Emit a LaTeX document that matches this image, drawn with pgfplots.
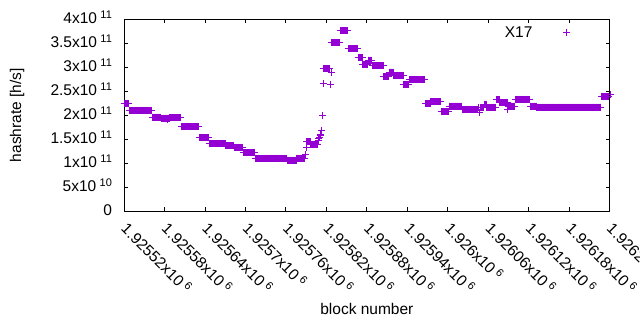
\documentclass[border=0pt]{standalone}
\usepackage{pgfplots}
\pgfplotsset{compat=1.18}
\usepackage{fontspec}
\setmainfont{Liberation Sans}
\newcommand\sexp[1]{\hspace{0.22em}\smash{\raisebox{5bp}{\fontsize{11bp}{11bp}\selectfont #1}}}
\newcommand\gpfont{\fontsize{15.5bp}{18bp}\selectfont}
\definecolor{gpviolet}{RGB}{148,0,211}
\pgfplotsset{gpmark/.style={legend image code/.code={\draw[##1] plot coordinates {(0bp,0bp)};}}}
\begin{document}
\gpfont
\begin{tikzpicture}
\path[use as bounding box] (-124.1bp,-119bp) rectangle (515.9bp,211bp);
\begin{axis}[
  at={(0,0)}, anchor=south west,
  scale only axis, width=485.5bp, height=191.7bp,
  xmin=0, xmax=720, ymin=0, ymax=4e11,
  clip=false,
  axis line style={line width=1bp},
  every tick/.style={black, line width=1bp},
  major tick length=4bp,
  tick align=inside,
  xtick={0,60,...,720},
  xticklabels={1.92552x10\sexp{6},1.92558x10\sexp{6},1.92564x10\sexp{6},1.9257x10\sexp{6},1.92576x10\sexp{6},1.92582x10\sexp{6},1.92588x10\sexp{6},1.92594x10\sexp{6},1.926x10\sexp{6},1.92606x10\sexp{6},1.92612x10\sexp{6},1.92618x10\sexp{6},1.92624x10\sexp{6}},
  ytick={0,5e10,1e11,1.5e11,2e11,2.5e11,3e11,3.5e11,4e11},
  yticklabels={0,5x10\sexp{10},1x10\sexp{11},1.5x10\sexp{11},2x10\sexp{11},2.5x10\sexp{11},3x10\sexp{11},3.5x10\sexp{11},4x10\sexp{11}},
  scaled y ticks=false, scaled x ticks=false,
  tick label style={font=\gpfont},
  label style={font=\gpfont},
  xticklabel style={rotate=-45, anchor=north west, inner sep=0pt, xshift=10.6bp, yshift=-5bp},
  yticklabel style={anchor=east, inner sep=0pt, xshift=-12bp, yshift=1bp},
  xlabel={block number}, ylabel={hashrate [h/s]},
  xlabel style={at={(axis description cs:0.5,-0.5086)}, anchor=center},
  ylabel style={at={(axis description cs:-0.2204,0.5)}, anchor=center},
  legend plot pos=right,
  legend style={draw=none, fill=none, font=\gpfont, at={(axis description cs:1,1)}, anchor=north east, xshift=-39bp, yshift=-7bp, inner sep=0pt, nodes={inner sep=0pt}},
]
\addplot[only marks, mark=+, mark size=3.5bp, color=gpviolet, line width=1bp, gpmark] coordinates {
(0,2.24e11)(1,2.24e11)(2,2.24e11)(3,2.24e11)(4,2.24e11)(5,2.24e11)(6,2.24e11)(7,2.24e11)
(8,2.1e11)(9,2.1e11)(10,2.1e11)(11,2.1e11)(12,2.1e11)(13,2.1e11)(14,2.1e11)(15,2.1e11)(16,2.1e11)(17,2.1e11)
(18,2.1e11)(19,2.1e11)(20,2.1e11)(21,2.1e11)(22,2.1e11)(23,2.1e11)(24,2.1e11)(25,2.1e11)(26,2.1e11)(27,2.1e11)
(28,2.1e11)(29,2.1e11)(30,2.1e11)(31,2.1e11)(32,2.1e11)(33,2.1e11)(34,2.1e11)(35,2.1e11)(36,2.1e11)(37,2.1e11)
(38,2.1e11)(39,2.1e11)(40,2.1e11)(41,2.1e11)
(42,1.96e11)(43,1.96e11)(44,1.96e11)(45,1.96e11)(46,1.96e11)(47,1.96e11)(48,1.96e11)(49,1.96e11)(50,1.96e11)(51,1.96e11)(52,1.96e11)(53,1.96e11)(54,1.96e11)
(55,1.94e11)(56,1.94e11)(57,1.94e11)(58,1.94e11)(59,1.94e11)(60,1.94e11)(61,1.94e11)(62,1.94e11)(63,1.94e11)(64,1.94e11)(65,1.91e11)(66,1.94e11)(67,1.94e11)
(68,1.95e11)(69,1.95e11)(70,1.95e11)(71,1.95e11)(72,1.95e11)(73,1.95e11)(74,1.95e11)(75,1.95e11)(76,1.95e11)(77,1.95e11)(78,1.95e11)(79,1.95e11)(80,1.95e11)(81,1.95e11)(82,1.95e11)(83,1.95e11)(84,1.95e11)
(85,1.76e11)(86,1.76e11)(87,1.76e11)(88,1.76e11)(89,1.76e11)(90,1.76e11)(91,1.76e11)(92,1.76e11)(93,1.76e11)(94,1.76e11)
(95,1.76e11)(96,1.76e11)(97,1.76e11)(98,1.76e11)(99,1.76e11)(100,1.76e11)(101,1.76e11)(102,1.76e11)(103,1.76e11)(104,1.76e11)
(105,1.76e11)(106,1.76e11)(107,1.76e11)(108,1.76e11)(109,1.76e11)(110,1.76e11)(111,1.76e11)
(112,1.53e11)(113,1.53e11)(114,1.53e11)(115,1.53e11)(116,1.53e11)(117,1.53e11)(118,1.53e11)(119,1.53e11)(120,1.53e11)(121,1.53e11)(122,1.53e11)(123,1.53e11)(124,1.53e11)(125,1.53e11)
(126,1.41e11)(127,1.41e11)(128,1.41e11)(129,1.41e11)(130,1.41e11)(131,1.41e11)(132,1.41e11)(133,1.41e11)(134,1.41e11)(135,1.41e11)
(136,1.41e11)(137,1.41e11)(138,1.41e11)(139,1.41e11)(140,1.41e11)(141,1.41e11)(142,1.41e11)(143,1.41e11)(144,1.41e11)(145,1.41e11)
(146,1.41e11)(147,1.41e11)(148,1.41e11)(149,1.41e11)(150,1.41e11)
(151,1.36e11)(152,1.36e11)(153,1.36e11)(154,1.36e11)(155,1.36e11)(156,1.36e11)(157,1.36e11)(158,1.36e11)(159,1.36e11)(160,1.36e11)(161,1.36e11)(162,1.36e11)
(163,1.33e11)(164,1.33e11)(165,1.33e11)(166,1.33e11)(167,1.33e11)(168,1.33e11)(169,1.33e11)(170,1.33e11)(171,1.33e11)(172,1.33e11)(173,1.33e11)(174,1.33e11)(175,1.33e11)(176,1.33e11)
(177,1.22e11)(178,1.22e11)(179,1.22e11)(180,1.22e11)(181,1.22e11)(182,1.22e11)(183,1.22e11)(184,1.22e11)(185,1.22e11)
(186,1.22e11)(187,1.22e11)(188,1.22e11)(189,1.22e11)(190,1.22e11)(191,1.22e11)(192,1.22e11)(193,1.22e11)(194,1.22e11)
(195,1.1e11)(196,1.1e11)(197,1.1e11)(198,1.1e11)(199,1.1e11)(200,1.1e11)(201,1.1e11)(202,1.1e11)(203,1.1e11)(204,1.1e11)
(205,1.1e11)(206,1.1e11)(207,1.1e11)(208,1.1e11)(209,1.1e11)(210,1.1e11)(211,1.1e11)(212,1.1e11)(213,1.1e11)(214,1.1e11)
(215,1.1e11)(216,1.1e11)(217,1.1e11)(218,1.1e11)(219,1.1e11)(220,1.1e11)(221,1.1e11)(222,1.1e11)(223,1.1e11)(224,1.1e11)
(225,1.1e11)(226,1.1e11)(227,1.1e11)(228,1.1e11)(229,1.1e11)(230,1.1e11)(231,1.1e11)(232,1.1e11)(233,1.1e11)(234,1.1e11)
(235,1.1e11)(236,1.1e11)(237,1.1e11)(238,1.1e11)(239,1.1e11)(240,1.1e11)(241,1.1e11)
(242,1.06e11)(243,1.06e11)(244,1.06e11)(245,1.06e11)(246,1.06e11)(247,1.06e11)(248,1.06e11)(249,1.06e11)(250,1.06e11)(251,1.06e11)(252,1.06e11)(253,1.06e11)(254,1.06e11)(255,1.06e11)
(256,1.1e11)(257,1.1e11)(258,1.1e11)(259,1.1e11)(260,1.1e11)(261,1.1e11)(262,1.1e11)(263,1.1e11)(264,1.1e11)(265,1.1e11)(266,1.1e11)(267,1.1e11)(268,1.1e11)
(269,1.17e11)(270,1.33e11)
(271,1.44e11)(272,1.44e11)(273,1.44e11)(274,1.44e11)(275,1.44e11)(276,1.44e11)
(277,1.39e11)(278,1.39e11)(279,1.39e11)(280,1.39e11)(281,1.39e11)(282,1.39e11)(283,1.39e11)(284,1.39e11)(285,1.39e11)(286,1.39e11)(287,1.39e11)
(288,1.48e11)(289,1.51e11)(290,1.54e11)(291,1.57e11)(292,1.6e11)(293,1.69e11)(294,2e11)(295,2.66e11)
(296,2.97e11)(297,2.97e11)(298,2.97e11)(299,2.97e11)(300,2.97e11)(301,2.97e11)(302,2.97e11)(303,2.97e11)(304,2.97e11)(305,2.97e11)
(306,2.65e11)(307,2.89e11)
(308,3.51e11)(309,3.51e11)(310,3.51e11)(311,3.51e11)(312,3.51e11)(313,3.51e11)(314,3.51e11)(315,3.51e11)(316,3.51e11)(317,3.51e11)(318,3.51e11)(319,3.51e11)(320,3.51e11)
(321,3.76e11)(322,3.76e11)(323,3.76e11)(324,3.76e11)(325,3.76e11)(326,3.76e11)(327,3.76e11)(328,3.76e11)(329,3.76e11)(330,3.76e11)(331,3.76e11)(332,3.76e11)
(333,3.39e11)(334,3.39e11)(335,3.39e11)(336,3.39e11)(337,3.39e11)(338,3.39e11)(339,3.39e11)(340,3.39e11)(341,3.39e11)(342,3.39e11)(343,3.39e11)(344,3.39e11)(345,3.39e11)(346,3.39e11)
(347,3.2e11)(348,3.2e11)(349,3.2e11)(350,3.2e11)(351,3.2e11)(352,3.2e11)(353,3.2e11)
(354,3.05e11)(355,3.05e11)(356,3.05e11)(357,3.05e11)(358,3.05e11)(359,3.05e11)(360,3.05e11)(361,3.05e11)
(362,3.15e11)(363,3.15e11)(364,3.15e11)(365,3.15e11)(366,3.15e11)(367,3.15e11)
(368,3.03e11)(369,3.03e11)(370,3.03e11)(371,3.03e11)(372,3.03e11)(373,3.03e11)(374,3.03e11)(375,3.03e11)(376,3.03e11)
(377,3.03e11)(378,3.03e11)(379,3.03e11)(380,3.03e11)(381,3.03e11)(382,3.03e11)(383,3.03e11)(384,3.03e11)
(385,2.8e11)(386,2.8e11)(387,2.8e11)(388,2.8e11)(389,2.8e11)(390,2.8e11)(391,2.8e11)(392,2.8e11)
(393,2.9e11)(394,2.9e11)(395,2.9e11)(396,2.9e11)(397,2.9e11)(398,2.9e11)(399,2.9e11)
(400,2.83e11)(401,2.83e11)(402,2.83e11)(403,2.83e11)(404,2.83e11)(405,2.83e11)(406,2.83e11)(407,2.83e11)(408,2.83e11)(409,2.83e11)(410,2.83e11)(411,2.83e11)(412,2.83e11)(413,2.83e11)(414,2.83e11)
(415,2.64e11)(416,2.64e11)(417,2.64e11)(418,2.64e11)(419,2.64e11)(420,2.64e11)(421,2.64e11)(422,2.64e11)
(423,2.74e11)(424,2.74e11)(425,2.74e11)(426,2.74e11)(427,2.74e11)(428,2.74e11)(429,2.74e11)(430,2.74e11)(431,2.74e11)(432,2.74e11)(433,2.74e11)(434,2.74e11)
(435,2.74e11)(436,2.74e11)(437,2.74e11)(438,2.74e11)(439,2.74e11)(440,2.74e11)(441,2.74e11)(442,2.74e11)(443,2.74e11)(444,2.74e11)(445,2.74e11)(446,2.74e11)
(447,2.24e11)(448,2.24e11)(449,2.24e11)(450,2.24e11)(451,2.24e11)(452,2.24e11)(453,2.24e11)(454,2.24e11)
(455,2.28e11)(456,2.28e11)(457,2.28e11)(458,2.28e11)(459,2.28e11)(460,2.28e11)(461,2.28e11)(462,2.28e11)(463,2.28e11)(464,2.28e11)(465,2.28e11)(466,2.28e11)(467,2.28e11)(468,2.28e11)(469,2.28e11)
(470,2.07e11)(471,2.07e11)(472,2.07e11)(473,2.07e11)(474,2.07e11)(475,2.07e11)(476,2.07e11)(477,2.07e11)(478,2.07e11)(479,2.07e11)(480,2.07e11)(481,2.07e11)
(482,2.19e11)(483,2.19e11)(484,2.19e11)(485,2.19e11)(486,2.19e11)(487,2.19e11)(488,2.19e11)(489,2.19e11)(490,2.19e11)(491,2.19e11)
(492,2.19e11)(493,2.19e11)(494,2.19e11)(495,2.19e11)(496,2.19e11)(497,2.19e11)(498,2.19e11)(499,2.19e11)(500,2.19e11)(501,2.19e11)
(502,2.12e11)(503,2.12e11)(504,2.12e11)(505,2.12e11)(506,2.12e11)(507,2.12e11)(508,2.12e11)(509,2.12e11)(510,2.12e11)(511,2.12e11)(512,2.12e11)(513,2.12e11)
(514,2.12e11)(515,2.12e11)(516,2.12e11)(517,2.12e11)(518,2.12e11)(519,2.12e11)(520,2.12e11)(521,2.12e11)(522,2.12e11)(523,2.12e11)(524,2.12e11)
(525,2.15e11)(526,2.15e11)(527,2.06e11)(528,2.15e11)(529,2.15e11)(530,2.15e11)(531,2.15e11)(532,2.15e11)(533,2.15e11)
(534,2.23e11)(535,2.23e11)(536,2.23e11)(537,2.23e11)
(538,2.16e11)(539,2.16e11)(540,2.16e11)(541,2.16e11)(542,2.16e11)(543,2.16e11)(544,2.16e11)(545,2.16e11)(546,2.16e11)(547,2.16e11)(548,2.16e11)(549,2.16e11)(550,2.16e11)(551,2.16e11)
(552,2.32e11)(553,2.32e11)(554,2.32e11)(555,2.32e11)(556,2.32e11)
(557,2.26e11)(558,2.26e11)(559,2.26e11)(560,2.26e11)(561,2.26e11)(562,2.26e11)(563,2.26e11)(564,2.26e11)(565,2.26e11)(566,2.26e11)(567,2.26e11)(568,2.26e11)(569,2.12e11)
(570,2.19e11)(571,2.19e11)(572,2.19e11)(573,2.19e11)(574,2.19e11)(575,2.19e11)(576,2.19e11)(577,2.19e11)(578,2.19e11)(579,2.19e11)
(580,2.33e11)(581,2.33e11)(582,2.33e11)(583,2.33e11)(584,2.33e11)(585,2.33e11)(586,2.33e11)(587,2.33e11)(588,2.33e11)(589,2.33e11)(590,2.33e11)
(591,2.33e11)(592,2.33e11)(593,2.33e11)(594,2.33e11)(595,2.33e11)(596,2.33e11)(597,2.33e11)(598,2.33e11)(599,2.33e11)(600,2.33e11)(601,2.33e11)
(602,2.19e11)(603,2.19e11)(604,2.19e11)(605,2.19e11)(606,2.19e11)(607,2.19e11)(608,2.19e11)(609,2.19e11)(610,2.19e11)(611,2.19e11)
(612,2.17e11)(613,2.17e11)(614,2.17e11)(615,2.17e11)(616,2.17e11)(617,2.17e11)(618,2.17e11)(619,2.17e11)(620,2.17e11)(621,2.17e11)(622,2.17e11)(623,2.17e11)
(624,2.17e11)(625,2.17e11)(626,2.17e11)(627,2.17e11)(628,2.17e11)(629,2.17e11)(630,2.17e11)(631,2.17e11)(632,2.17e11)(633,2.17e11)(634,2.17e11)(635,2.17e11)
(636,2.17e11)(637,2.17e11)(638,2.17e11)(639,2.17e11)(640,2.17e11)(641,2.17e11)(642,2.17e11)(643,2.17e11)(644,2.17e11)(645,2.17e11)(646,2.17e11)(647,2.17e11)
(648,2.17e11)(649,2.17e11)(650,2.17e11)(651,2.17e11)(652,2.17e11)(653,2.17e11)(654,2.17e11)(655,2.17e11)(656,2.17e11)(657,2.17e11)(658,2.17e11)(659,2.17e11)
(660,2.17e11)(661,2.17e11)(662,2.17e11)(663,2.17e11)(664,2.17e11)(665,2.17e11)(666,2.17e11)(667,2.17e11)(668,2.17e11)(669,2.17e11)(670,2.17e11)(671,2.17e11)
(672,2.17e11)(673,2.17e11)(674,2.17e11)(675,2.17e11)(676,2.17e11)(677,2.17e11)(678,2.17e11)(679,2.17e11)(680,2.17e11)(681,2.17e11)(682,2.17e11)(683,2.17e11)
(684,2.17e11)(685,2.17e11)(686,2.17e11)(687,2.17e11)(688,2.17e11)(689,2.17e11)(690,2.17e11)(691,2.17e11)(692,2.17e11)(693,2.17e11)(694,2.17e11)(695,2.17e11)
(696,2.17e11)(697,2.17e11)(698,2.17e11)(699,2.17e11)(700,2.17e11)(701,2.17e11)(702,2.17e11)(703,2.17e11)(704,2.17e11)(705,2.17e11)(706,2.17e11)(707,2.17e11)
(708,2.39e11)(709,2.39e11)(710,2.39e11)(711,2.39e11)(712,2.39e11)(713,2.39e11)(714,2.39e11)(715,2.39e11)(716,2.39e11)(717,2.39e11)(718,2.39e11)(719,2.39e11)
(722,2.43e11)
};
\addlegendentry{X17\hspace{31bp}\null}
\end{axis}
\end{tikzpicture}
\end{document}
